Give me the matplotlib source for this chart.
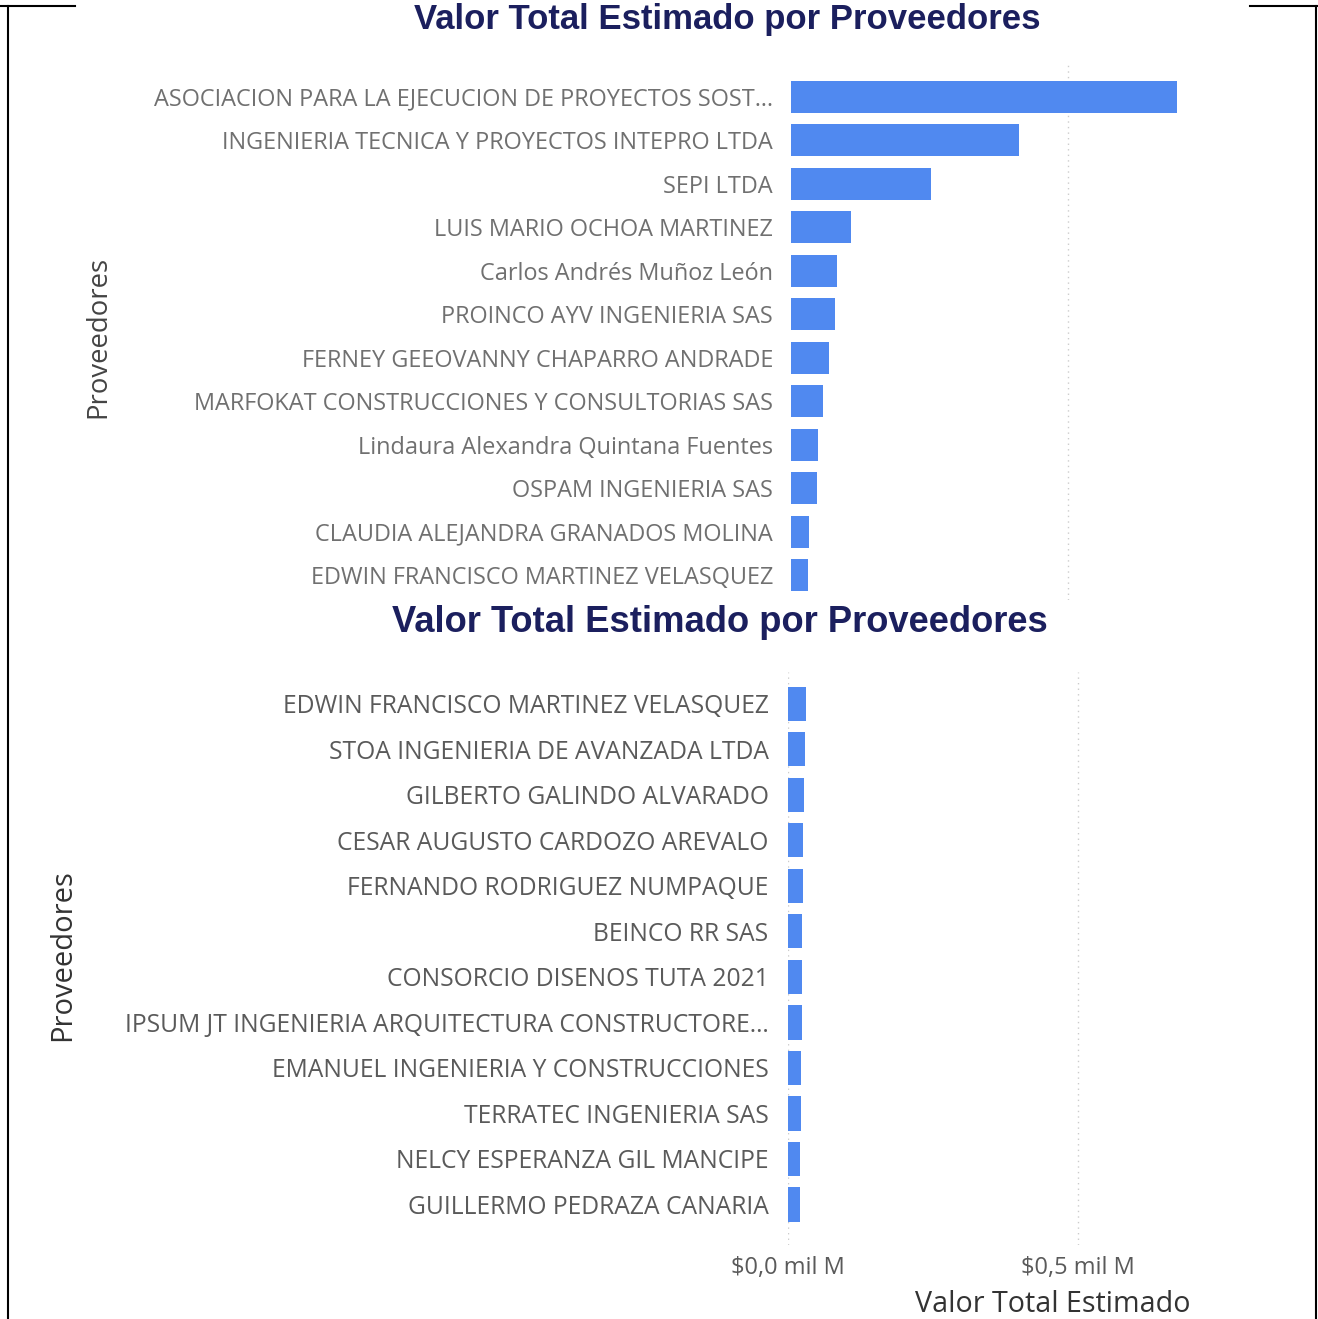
import matplotlib.pyplot as plt
from matplotlib.lines import Line2D

# valores en millones de pesos
proveedores_top = [
    "ASOCIACION PARA LA EJECUCION DE PROYECTOS SOST…",
    "INGENIERIA TECNICA Y PROYECTOS INTEPRO LTDA",
    "SEPI LTDA",
    "LUIS MARIO OCHOA MARTINEZ",
    "Carlos Andrés Muñoz León",
    "PROINCO AYV INGENIERIA SAS",
    "FERNEY GEEOVANNY CHAPARRO ANDRADE",
    "MARFOKAT CONSTRUCCIONES Y CONSULTORIAS SAS",
    "Lindaura Alexandra Quintana Fuentes",
    "OSPAM INGENIERIA SAS",
    "CLAUDIA ALEJANDRA GRANADOS MOLINA",
    "EDWIN FRANCISCO MARTINEZ VELASQUEZ",
]
valores_top = [696, 412, 253, 108, 83.6, 78.9, 69.2, 58.3, 49.3, 47.5, 32.5, 31.2]

proveedores_bot = [
    "EDWIN FRANCISCO MARTINEZ VELASQUEZ",
    "STOA INGENIERIA DE AVANZADA LTDA",
    "GILBERTO GALINDO ALVARADO",
    "CESAR AUGUSTO CARDOZO AREVALO",
    "FERNANDO RODRIGUEZ NUMPAQUE",
    "BEINCO RR SAS",
    "CONSORCIO DISENOS TUTA 2021",
    "IPSUM JT INGENIERIA ARQUITECTURA CONSTRUCTORE…",
    "EMANUEL INGENIERIA Y CONSTRUCCIONES",
    "TERRATEC INGENIERIA SAS",
    "NELCY ESPERANZA GIL MANCIPE",
    "GUILLERMO PEDRAZA CANARIA",
]
valores_bot = [31.1, 30.2, 28.2, 26.0, 25.2, 24.7, 24.2, 24.2, 21.8, 21.8, 21.2, 20.0]

ticks_x = [0, 500]
ticks_x_labels = ["$0,0 mil M", "$0,5 mil M"]

W, H = 1318, 1319
color_barra = "#5089F0"
color_titulo = "#1B1F5E"
fuente = "Open Sans"


def caja(x0, y0, x1, y1):
    return [x0 / W, 1 - y1 / H, (x1 - x0) / W, (y1 - y0) / H]


fig = plt.figure(figsize=(W / 100, H / 100), dpi=100)

# ---- panel superior
ax1 = fig.add_axes(caja(791, 65, 1200, 600))
ax1.barh(range(len(valores_top)), valores_top, height=0.73, color=color_barra)
ax1.set_xlim(0, 738)
ax1.set_ylim(11.57, -0.73)
ax1.set_yticks(range(len(proveedores_top)))
ax1.set_yticklabels(proveedores_top, fontsize=16.9, color="#707070", family=fuente)
ax1.set_xticks([500])
ax1.set_xticklabels([])
ax1.tick_params(length=0, axis="y", pad=13)
ax1.tick_params(length=0, axis="x")
ax1.grid(axis="x", linestyle=(0, (1, 3)), color="#cccccc", linewidth=1)
ax1.set_axisbelow(True)
for s in ax1.spines.values():
    s.set_visible(False)

# ---- panel inferior
ax2 = fig.add_axes(caja(788, 672, 1318, 1245))
ax2.barh(range(len(valores_bot)), valores_bot, height=0.75, color=color_barra)
ax2.set_xlim(0, 915)
ax2.set_ylim(11.89, -0.70)
ax2.set_yticks(range(len(proveedores_bot)))
ax2.set_yticklabels(proveedores_bot, fontsize=17.7, color="#5a5a5a", family=fuente)
ax2.set_xticks(ticks_x)
ax2.set_xticklabels(ticks_x_labels, fontsize=17, color="#5a5a5a", family=fuente)
ax2.tick_params(length=0, axis="y", pad=14)
ax2.tick_params(length=0, axis="x", pad=8)
ax2.grid(axis="x", linestyle=(0, (1, 3)), color="#cccccc", linewidth=1)
ax2.set_axisbelow(True)
for s in ax2.spines.values():
    s.set_visible(False)

# titulos y etiquetas de ejes
fig.text(727 / W, 1 - 20 / H, "Valor Total Estimado por Proveedores", ha="center", va="center",
         fontsize=25, fontweight="bold", color=color_titulo, family="Liberation Sans")
fig.text(720 / W, 1 - 623 / H, "Valor Total Estimado por Proveedores", ha="center", va="center",
         fontsize=26.2, fontweight="bold", color=color_titulo, family="Liberation Sans")
fig.text(98 / W, 1 - 337 / H, "Proveedores", rotation=90, ha="center", va="center",
         fontsize=19.8, color="#444444", family=fuente)
fig.text(63 / W, 1 - 955 / H, "Proveedores", rotation=90, ha="center", va="center",
         fontsize=21, color="#333333", family=fuente)
fig.text(1053 / W, 1 - 1304 / H, "Valor Total Estimado", ha="center", va="center",
         fontsize=20.6, color="#333333", family=fuente)

# marco de la captura
for xs, ys in [([8, 8], [6, H]), ([1316, 1316], [6, H]), ([0, 75], [6, 6]), ([1250, W], [6, 6])]:
    fig.add_artist(Line2D([x / W for x in xs], [1 - y / H for y in ys], color="black", linewidth=1.5))

fig.savefig("out.png", dpi=100)
